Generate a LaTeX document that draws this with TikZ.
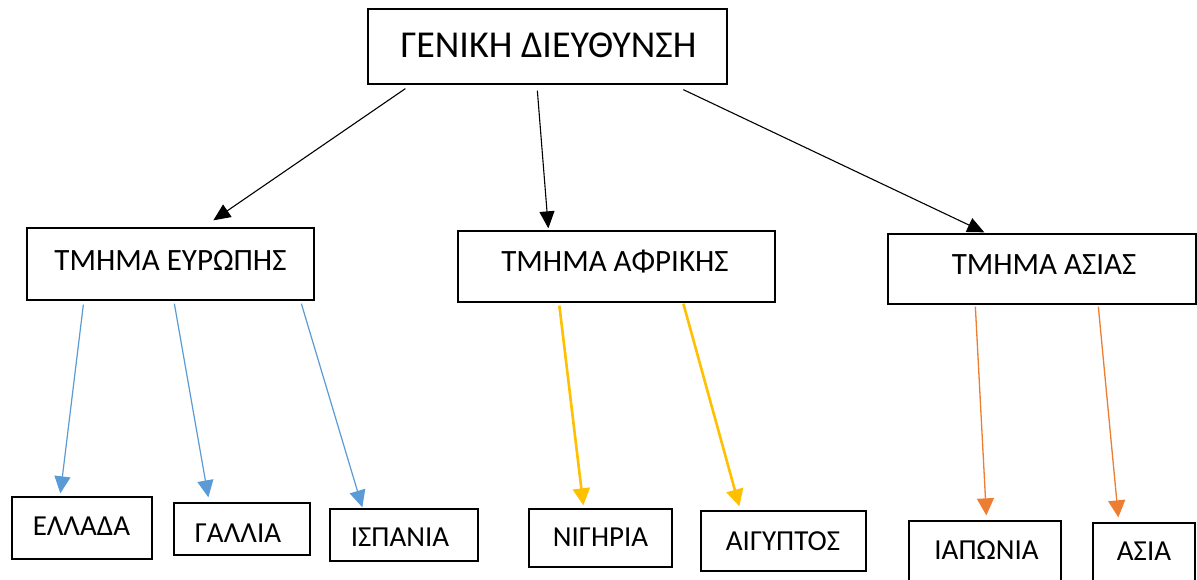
\documentclass[tikz,border=0pt]{standalone}
\usepackage{fontspec}
\setmainfont{Carlito}
\usetikzlibrary{arrows.meta}
\definecolor{eublue}{HTML}{5B9BD5}
\definecolor{afyel}{HTML}{FFC000}
\definecolor{asorg}{HTML}{ED7D31}
\begin{document}
\begin{tikzpicture}[x=1pt,y=-1pt,
  box/.style={draw=black, line width=1.3pt, rectangle, inner sep=0pt},
  lbl/.style={anchor=base, inner sep=0pt},
  topfont/.style={font=\fontsize{38}{44}\selectfont},
  midfont/.style={font=\fontsize{31}{36}\selectfont},
  lowfont/.style={font=\fontsize{29}{34}\selectfont},
  blk/.style={draw=black, line width=1.1pt, -{Triangle[length=17pt,width=15pt]}},
  blu/.style={draw=eublue, line width=1.2pt, -{Triangle[length=17pt,width=16pt]}, eublue},
  yel/.style={draw=afyel, line width=2.6pt, -{Triangle[length=17pt,width=17pt]}, afyel},
  org/.style={draw=asorg, line width=1.3pt, -{Triangle[length=17pt,width=17pt]}, asorg}]
\useasboundingbox (0,0) rectangle (1197,580);
\fill[white] (0,0) rectangle (1197,580);
% boxes
\node[box, minimum width=359pt, minimum height=75pt] (top) at (547.5,46.5) {};
\node[box, minimum width=287pt, minimum height=72pt] (eu) at (170.5,264) {};
\node[box, minimum width=317pt, minimum height=71pt] (af) at (616.5,266.5) {};
\node[box, minimum width=308pt, minimum height=70pt] (as) at (1042,269) {};
\node[box, minimum width=140pt, minimum height=62pt] (ell) at (82,528) {};
\node[box, minimum width=136pt, minimum height=52pt] (gal) at (242,529) {};
\node[box, minimum width=148pt, minimum height=52pt] (isp) at (404,535) {};
\node[box, minimum width=143pt, minimum height=58pt] (nig) at (600.5,538) {};
\node[box, minimum width=165pt, minimum height=60pt] (aig) at (783.5,541) {};
\node[box, minimum width=152pt, minimum height=79pt] (iap) at (985,560.5) {};
\node[box, minimum width=102pt, minimum height=77pt] (asi) at (1144,561.5) {};
% texts
\node[lbl, topfont] (topt) at (548.5,58) {ΓΕΝΙΚΗ ΔΙΕΥΘΥΝΣΗ};
\node[lbl, midfont] (eut) at (170.5,270) {ΤΜΗΜΑ ΕΥΡΩΠΗΣ};
\node[lbl, midfont] (aft) at (615,271) {ΤΜΗΜΑ ΑΦΡΙΚΗΣ};
\node[lbl, midfont] (ast) at (1044,275) {ΤΜΗΜΑ ΑΣΙΑΣ};
\node[lbl, lowfont] (ellt) at (81.5,535) {ΕΛΛΑΔΑ};
\node[lbl, lowfont] (galt) at (238,542) {ΓΑΛΛΙΑ};
\node[lbl, lowfont] (ispt) at (400,546.7) {ΙΣΠΑΝΙΑ};
\node[lbl, lowfont] (nigt) at (600.5,546.7) {ΝΙΓΗΡΙΑ};
\node[lbl, lowfont] (aigt) at (783,550.7) {ΑΙΓΥΠΤΟΣ};
\node[lbl, lowfont] (iapt) at (986.5,559) {ΙΑΠΩΝΙΑ};
\node[lbl, lowfont] (asit) at (1144,560.7) {ΑΣΙΑ};
% connectors
\draw[blk] ([xshift=38pt,yshift=-4pt]top.south west) -- ([xshift=187pt,yshift=7pt]eu.north west);
\draw[blk] ([xshift=170pt,yshift=-6pt]top.south west) -- ([xshift=91pt,yshift=2pt]af.north west);
\draw[blk] ([xshift=316pt,yshift=-5pt]top.south west) -- ([xshift=97pt,yshift=1pt]as.north west);
\draw[blu] ([xshift=57pt,yshift=-4pt]eu.south west) -- ([xshift=49pt,yshift=3pt]ell.north west);
\draw[blu] ([xshift=148pt,yshift=-3pt]eu.south west) -- ([xshift=35pt,yshift=5pt]gal.north west);
\draw[blu] ([xshift=275pt,yshift=-3pt]eu.south west) -- ([xshift=33pt,yshift=1pt]isp.north west);
\draw[yel] ([xshift=102pt,yshift=-3pt]af.south west) -- ([xshift=55pt,yshift=3pt]nig.north west);
\draw[yel] ([xshift=226pt,yshift=-1pt]af.south west) -- ([xshift=39pt,yshift=4pt]aig.north west);
\draw[org] ([xshift=88pt,yshift=-2pt]as.south west) -- ([xshift=78pt,yshift=5pt]iap.north west);
\draw[org] ([xshift=211pt,yshift=-2pt]as.south west) -- ([xshift=26pt,yshift=5pt]asi.north west);
\end{tikzpicture}
\end{document}
